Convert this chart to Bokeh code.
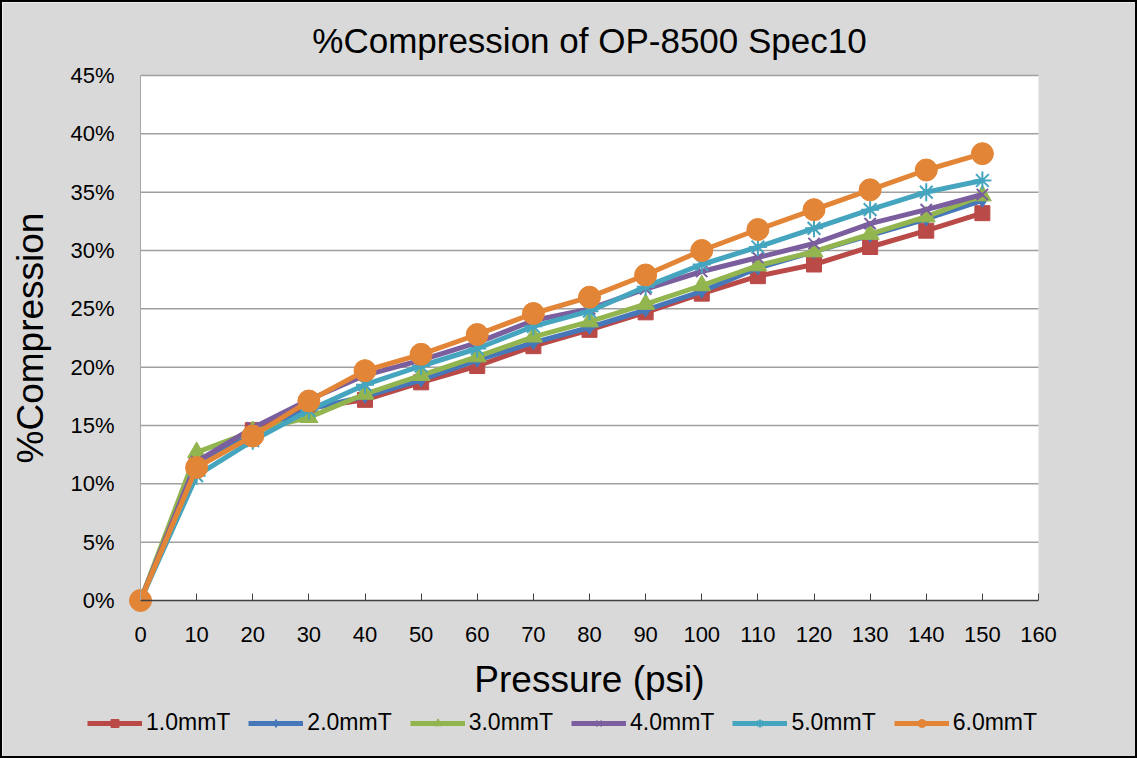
from bokeh.plotting import figure
from bokeh.models import (Range1d, FixedTicker, NumeralTickFormatter, Legend, LegendItem, ColumnDataSource)
from bokeh.core.properties import value
from bokeh.embed import file_html
from bokeh.resources import INLINE

pressure = [0, 10, 20, 30, 40, 50, 60, 70, 80, 90, 100, 110, 120, 130, 140, 150]
s_1_0 = [0, 11.7, 14.6, 16.5, 17.2, 18.7, 20.1, 21.8, 23.2, 24.7, 26.3, 27.8, 28.8, 30.3, 31.7, 33.2]
s_2_0 = [0, 11.6, 14.3, 16.4, 17.5, 18.9, 20.6, 22.1, 23.4, 24.9, 26.5, 28.5, 29.9, 31.3, 32.7, 34.3]
s_3_0 = [0, 12.7, 14.5, 15.7, 17.7, 19.3, 20.9, 22.6, 23.9, 25.4, 27.0, 28.7, 29.9, 31.4, 32.9, 34.7]
s_4_0 = [0, 11.9, 14.8, 17.2, 19.3, 20.6, 22.1, 24.0, 25.0, 26.7, 28.2, 29.4, 30.6, 32.3, 33.5, 34.8]
s_5_0 = [0, 10.7, 13.7, 16.3, 18.5, 20.1, 21.6, 23.5, 24.8, 26.9, 28.8, 30.3, 31.9, 33.5, 35.0, 36.0]
s_6_0 = [0, 11.4, 14.1, 17.1, 19.7, 21.1, 22.8, 24.6, 26.0, 27.9, 30.0, 31.8, 33.5, 35.2, 36.9, 38.3]

series_names = ["1.0mmT", "2.0mmT", "3.0mmT", "4.0mmT", "5.0mmT", "6.0mmT"]
series_values = [s_1_0, s_2_0, s_3_0, s_4_0, s_5_0, s_6_0]
colors = ["#B94A48", "#4677B8", "#93B550", "#7B5E9E", "#45A5BF", "#E38537"]
markers = ["square", "diamond", "triangle", "x", "asterisk", "circle"]
sizes = [15, 14, 18, 16, 18, 22]

x_ticks = list(range(0, 170, 10))
y_ticks = [i * 0.05 for i in range(10)]
x_min, x_max = 0, 160
y_min, y_max = 0, 0.45
title_text = "%Compression of OP-8500 Spec10"

FONT = "Liberation Sans"

# frame covers the whole chart area; plot region (white) is drawn from the axis limits
PX_X = 898 / (x_max - x_min)
PX_Y = 525 / (y_max - y_min)
p = figure(frame_width=1133, frame_height=754,
           output_backend="svg", toolbar_location=None,
           x_range=Range1d(x_min - 138 / PX_X, x_min + (1133 - 138) / PX_X),
           y_range=Range1d(y_max - 681 / PX_Y, y_max + 73 / PX_Y),
           min_border_left=0, min_border_right=0, min_border_top=0, min_border_bottom=0)
p.styles = {"border": "2px solid black", "box-sizing": "border-box"}
p.border_fill_color = "#D9D9D9"
p.background_fill_color = "#D9D9D9"
p.outline_line_color = None
p.xgrid.visible = False
p.ygrid.visible = False

# title
p.text(x=[(x_min + x_max) / 2], y=[y_max + 35 / PX_Y], text=[title_text],
       text_font=value(FONT), text_font_size="35px", text_color="black",
       text_align="center", text_baseline="middle")

# plot area and horizontal gridlines
p.quad(left=[x_min], right=[x_max], bottom=[y_min], top=[y_max],
       fill_color="white", line_color=None)
p.segment(x0=[x_min] * (len(y_ticks) - 1), x1=[x_max] * (len(y_ticks) - 1),
          y0=y_ticks[1:], y1=y_ticks[1:], line_color="#A0A0A0", line_width=1.5)

items = []
for name, vals, c, m, s in zip(series_names, series_values, colors, markers, sizes):
    src = ColumnDataSource(dict(x=pressure, y=[v / 100 for v in vals]))
    r1 = p.line("x", "y", source=src, line_color=c, line_width=5)
    if m in ("x", "asterisk"):
        r2 = p.scatter("x", "y", source=src, marker=m, size=s, line_color=c, line_width=2)
    else:
        r2 = p.scatter("x", "y", source=src, marker=m, size=s, fill_color=c, line_color=c)
    items.append(LegendItem(label=name, renderers=[r1, r2]))

p.xaxis.fixed_location = 0
p.yaxis.fixed_location = 0
p.xaxis.bounds = (x_min, x_max)
p.yaxis.bounds = (y_min, y_max)
p.xaxis.ticker = FixedTicker(ticks=x_ticks)
p.yaxis.ticker = FixedTicker(ticks=y_ticks)
p.yaxis.formatter = NumeralTickFormatter(format="0%")

p.xaxis.axis_label = "Pressure (psi)"
p.yaxis.axis_label = "%Compression"
for ax in (p.xaxis, p.yaxis):
    ax.axis_label_text_font = FONT
    ax.axis_label_text_font_size = "37px"
    ax.axis_label_text_font_style = "normal"
    ax.axis_label_text_color = "black"
    ax.major_label_text_font = FONT
    ax.major_label_text_font_size = "22px"
    ax.major_label_text_color = "black"
    ax.minor_tick_line_color = None

p.xaxis.axis_line_color = "#404040"
p.xaxis.axis_line_width = 1.5
p.xaxis.major_tick_line_color = "#404040"
p.xaxis.major_tick_in = 7
p.xaxis.major_tick_out = 0
p.xaxis.major_label_standoff = 26
p.xaxis.axis_label_standoff = 14

p.yaxis.axis_line_color = "#A6A6A6"
p.yaxis.major_tick_line_color = None
p.yaxis.major_label_standoff = 20
p.yaxis.axis_label_standoff = 16

legend = Legend(items=items, orientation="horizontal", location=(85, 20))
legend.label_text_font = FONT
legend.label_text_font_size = "23px"
legend.label_text_color = "black"
legend.glyph_width = 55
legend.glyph_height = 20
legend.spacing = 18
legend.label_standoff = 4
legend.padding = 0
legend.margin = 0
legend.background_fill_alpha = 0
legend.border_line_alpha = 0
p.add_layout(legend)

open("out.html", "w").write(file_html(p, INLINE))
